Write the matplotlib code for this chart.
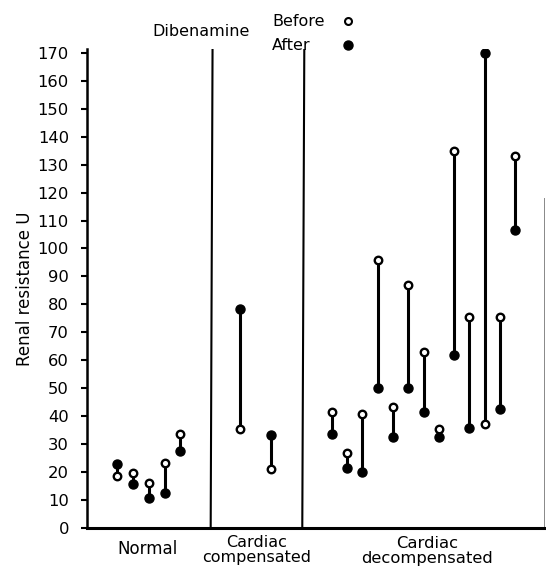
import numpy as np
import matplotlib
matplotlib.use("Agg")
import matplotlib.pyplot as plt

# Renal resistance (units) before and after Dibenamine, one pair per subject
normal_before = [18.5, 19.6, 15.8, 23.0, 33.5]
normal_after = [22.6, 15.5, 10.5, 12.4, 27.5]

comp_before = [35.3, 20.9]
comp_after = [78.3, 33.3]

decomp_before = [41.5, 26.6, 40.6, 95.8, 43.1, 86.8, 63.0, 35.4, 135.0, 75.4, 37.2, 75.4, 133.2]
decomp_after = [33.4, 21.3, 19.8, 49.9, 32.4, 50.0, 41.5, 32.3, 61.8, 35.8, 170.0, 42.4, 106.6]

yticks = list(range(0, 171, 10))
group_labels = ["Normal", "Cardiac\ncompensated", "Cardiac\ndecompensated"]

W, H = 546, 568
fig = plt.figure(figsize=(W / 100, H / 100), dpi=100)
ax = fig.add_axes([87 / W, 1 - 527.5 / H, 458 / W, (527.5 - 49) / H])

# subject positions inside each group panel
x_normal = 1.95 + 1.02 * np.arange(len(normal_before))
x_comp = 9.9 + 2.0 * np.arange(len(comp_before))
x_decomp = 15.8 + 0.986 * np.arange(len(decomp_before))

xs = np.concatenate([x_normal, x_comp, x_decomp])
before = np.array(normal_before + comp_before + decomp_before)
after = np.array(normal_after + comp_after + decomp_after)

ax.vlines(xs, before, after, color="black", lw=2.2, zorder=2)
ax.plot(xs, after, "o", ms=6.5, color="black", zorder=3)
ax.plot(xs, before, "o", ms=5.4, mfc="white", mec="black", mew=1.7, zorder=3)

# panel dividers and the faint right edge
ax.plot([8.10, 7.98], [171.5, 0], color="black", lw=1.5)
ax.plot([14.02, 13.89], [171.5, 0], color="black", lw=1.5)
ax.plot([29.5, 29.5], [0, 118], color="#888888", lw=0.7)

ax.set_xlim(0, 29.55)
ax.set_ylim(0, 171.5)
ax.set_yticks(yticks)
ax.set_xticks([])
for s in ["top", "right"]:
    ax.spines[s].set_visible(False)
ax.spines["left"].set_linewidth(1.8)
ax.spines["bottom"].set_linewidth(2.2)
ax.tick_params(axis="y", length=4, width=1.5, pad=9, labelsize=11.8)
ax.set_ylabel("Renal resistance U", fontsize=12)
ax.yaxis.set_label_coords(-0.115, 0.5)

# header legend
fig.text(152 / W, 1 - 32 / H, "Dibenamine", fontsize=11.5, va="center", ha="left")
fig.text(272 / W, 1 - 21 / H, "Before", fontsize=11.5, va="center", ha="left")
fig.text(272 / W, 1 - 45 / H, "After", fontsize=11.5, va="center", ha="left")
fig.add_artist(plt.Line2D([347.5 / W], [1 - 21 / H], marker="o", ms=5, mfc="white",
                          mec="black", mew=1.5, transform=fig.transFigure))
fig.add_artist(plt.Line2D([347.5 / W], [1 - 45 / H], marker="o", ms=6.5,
                          color="black", transform=fig.transFigure))

# group names under the axis
fig.text(147.5 / W, 1 - 549 / H, group_labels[0], fontsize=12, ha="center", va="center")
fig.text(257 / W, 1 - 550 / H, group_labels[1], fontsize=11.5, ha="center", va="center",
         linespacing=0.95)
fig.text(427 / W, 1 - 551 / H, group_labels[2], fontsize=11.8, ha="center", va="center",
         linespacing=0.95)

fig.savefig("out.png", dpi=100)
